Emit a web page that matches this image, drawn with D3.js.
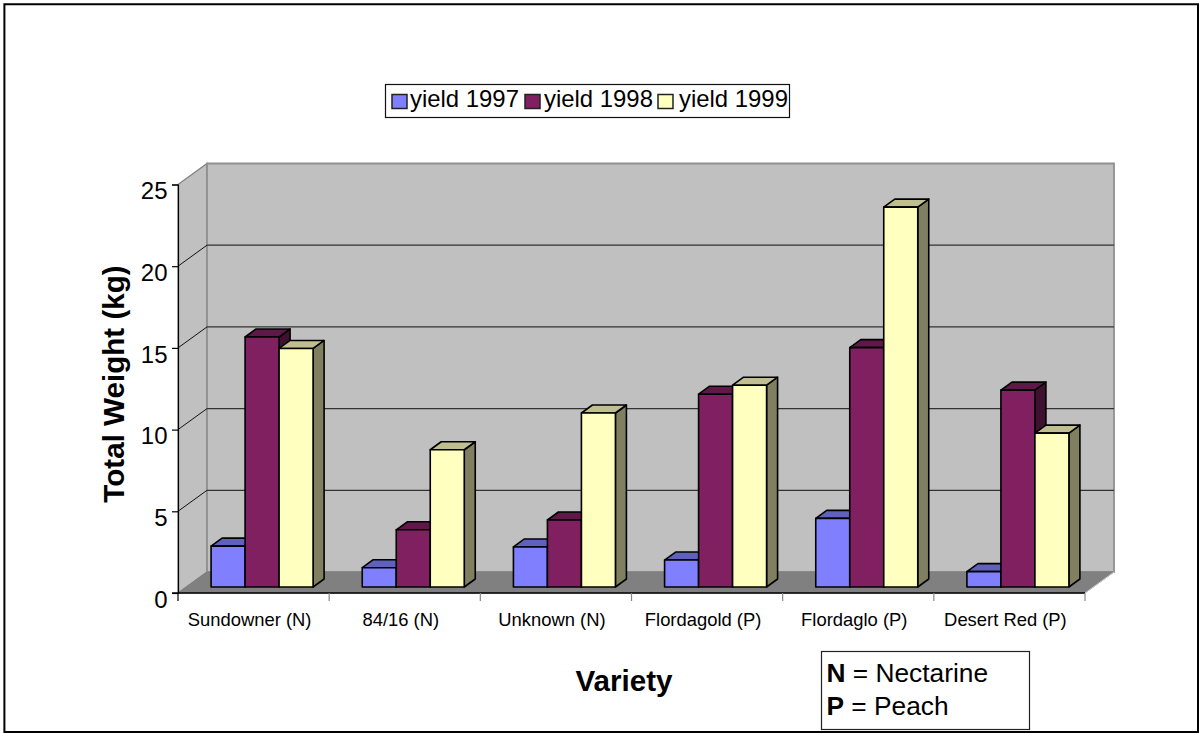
<!DOCTYPE html>
<html><head><meta charset="utf-8"><style>html,body{margin:0;background:#fff}svg{display:block}text{font-family:"Liberation Sans",Arial,sans-serif;fill:#000}</style>
<script src="https://cdn.jsdelivr.net/npm/d3@7"></script></head><body><svg id="c" width="1200" height="733"></svg>
<script>
const categories=["Sundowner (N)","84/16 (N)","Unknown (N)","Flordagold (P)","Flordaglo (P)","Desert Red (P)"];
const seriesNames=["yield 1997","yield 1998","yield 1999"];
const yield1997=[2.5,1.18,2.45,1.65,4.2,0.94];
const yield1998=[15.3,3.5,4.1,11.8,14.65,12.05];
const yield1999=[14.6,8.4,10.65,12.35,23.25,9.42];
const yTicks=[0,5,10,15,20,25];
const colors=["#8080FF","#802060","#FFFFC0"];
const topColors=["#6060BF","#601848","#BFBF90"];
const sideColors=["#404080","#401030","#808060"];

const svg=d3.select("#c");
const x=d3.scaleBand().domain(categories).range([178,1085]);
const y=d3.scaleLinear().domain([0,25]).range([593,184.5]);
const series=d3.scaleBand().domain(seriesNames).range([0,102]);
const depth={dx:29,dy:-21},front={dx:8.5,dy:-6},bar={dx:11,dy:-8};
const pts=a=>a.map(p=>p.join(",")).join(" ");

// frame
svg.append("path").attr("d","M4.4,733V4.2H1198V732H4.4").attr("fill","#fff").attr("stroke","#000").attr("stroke-width",2);

// walls
const x0=178,x1=1085,y0=y(0),yT=y(25);
svg.append("polygon").attr("points",pts([[x0,y0],[x0+depth.dx,y0+depth.dy],[x0+depth.dx,yT+depth.dy],[x0,yT]])).attr("fill","#C0C0C0").attr("stroke","#808080").attr("stroke-width",1.3);
svg.append("polygon").attr("points",pts([[x0+depth.dx,y0+depth.dy],[x1+depth.dx,y0+depth.dy],[x1+depth.dx,yT+depth.dy],[x0+depth.dx,yT+depth.dy]])).attr("fill","#C0C0C0").attr("stroke","#909090").attr("stroke-width",1.8);
svg.append("polygon").attr("points",pts([[x0,y0],[x1,y0],[x1+depth.dx,y0+depth.dy],[x0+depth.dx,y0+depth.dy]])).attr("fill","#808080").attr("stroke","#808080");
// gridlines
yTicks.slice(1,-1).forEach(t=>{
  svg.append("path").attr("d",`M${x0},${y(t)}L${x0+depth.dx},${y(t)+depth.dy}`).attr("fill","none").attr("stroke","#111").attr("stroke-width",1);
  svg.append("path").attr("d",`M${x0+depth.dx},${y(t)+depth.dy}H${x1+depth.dx}`).attr("fill","none").attr("stroke","#333").attr("stroke-width",1.2);
});

// bars
const layers=[yield1997,yield1998,yield1999];
categories.forEach((c,i)=>{
  const left=x(c)+front.dx+(x.bandwidth()-102)/2;
  const base=y(0)+front.dy;
  layers.forEach((vals,s)=>{
    const name=seriesNames[s];
    const bx=left+series(name), w=series.bandwidth();
    const ty=y(vals[i])+front.dy;
    const g=svg.append("g").attr("stroke","#000").attr("stroke-width",1.6).attr("stroke-linejoin","round");
    g.append("polygon").attr("points",pts([[bx+w,base],[bx+w+bar.dx,base+bar.dy],[bx+w+bar.dx,ty+bar.dy],[bx+w,ty]])).attr("fill",sideColors[s]);
    g.append("polygon").attr("points",pts([[bx,ty],[bx+bar.dx,ty+bar.dy],[bx+w+bar.dx,ty+bar.dy],[bx+w,ty]])).attr("fill",topColors[s]);
    g.append("rect").attr("x",bx).attr("y",ty).attr("width",w).attr("height",base-ty).attr("fill",colors[s]);
  });
});

// axes
const yAxis=d3.axisLeft(y).tickValues(yTicks).tickSize(6).tickPadding(4.5);
const gy=svg.append("g").attr("transform",`translate(${x0},0)`).call(yAxis);
gy.selectAll("text").attr("font-size",24).attr("font-family","Liberation Sans").attr("dy","0.59em");
gy.selectAll("line,path").attr("stroke","#000").attr("stroke-width",1.2);
const xAxis=d3.axisBottom(x).tickSize(0).tickPadding(0);
const gx=svg.append("g").attr("transform",`translate(0,${y0})`).call(xAxis);
gx.select("path").attr("stroke","#000").attr("stroke-width",1.4).attr("d",`M${x0-6},0H${x1}`);
gx.selectAll("text").attr("font-size",18.4).attr("font-family","Liberation Sans").attr("fill","#000").attr("x",-4).attr("y",32.7).attr("dy",0);
const edges=d3.range(categories.length+1).map(i=>x0+i*x.step());
svg.append("g").selectAll("line").data(edges).join("line").attr("x1",d=>d).attr("x2",d=>d).attr("y1",y0).attr("y2",y0+8).attr("stroke",(d,i)=>i?"#888":"#000").attr("stroke-width",1.2);
svg.append("path").attr("d",`M${x1},${y0}L${x1+depth.dx},${y0+depth.dy}`).attr("stroke","#ccc").attr("fill","none");

// titles
svg.append("text").attr("transform","translate(123.5,384) rotate(-90)").attr("text-anchor","middle").attr("font-size",29.6).attr("font-weight","bold").text("Total Weight (kg)");
svg.append("text").attr("x",624).attr("y",691).attr("text-anchor","middle").attr("font-size",29.6).attr("font-weight","bold").text("Variety");

// legend
svg.append("rect").attr("x",385.5).attr("y",84.5).attr("width",404).attr("height",33).attr("fill","#fff").attr("stroke","#111").attr("stroke-width",1.2);
const legX=[392,525,658], legT=[410,544,679];
seriesNames.forEach((n,i)=>{
  svg.append("rect").attr("x",legX[i]).attr("y",94.5).attr("width",15).attr("height",14).attr("fill",colors[i]).attr("stroke","#222").attr("stroke-width",1.5);
  svg.append("text").attr("x",legT[i]).attr("y",107.3).attr("font-size",23.9).text(n);
});

// note box
svg.append("rect").attr("x",821.5).attr("y",651.5).attr("width",208).attr("height",78).attr("fill","#fff").attr("stroke","#222").attr("stroke-width",1.2);
const note=[["N"," = Nectarine",681.7],["P"," = Peach",715]];
note.forEach(([b,r,py])=>{
  const t=svg.append("text").attr("x",826.5).attr("y",py).attr("font-size",26.3).attr("xml:space","preserve");
  t.append("tspan").attr("font-weight","bold").text(b);
  t.append("tspan").text(r);
});
</script></body></html>
